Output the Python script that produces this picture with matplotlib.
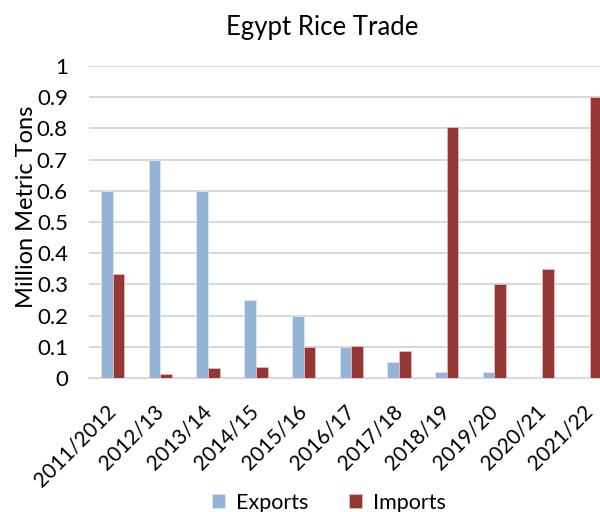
import matplotlib
matplotlib.use("Agg")
import matplotlib.pyplot as plt
import numpy as np

plt.rcParams['font.family'] = ['Lato', 'DejaVu Sans']

categories = ["2011/2012", "2012/13", "2013/14", "2014/15", "2015/16", "2016/17",
              "2017/18", "2018/19", "2019/20", "2020/21", "2021/22"]
exports = [0.6, 0.7, 0.6, 0.25, 0.2, 0.1, 0.05, 0.02, 0.02, 0.002, 0.003]
imports = [0.335, 0.013, 0.033, 0.034, 0.1, 0.102, 0.086, 0.806, 0.302, 0.349, 0.9]
yticks = [0, 0.1, 0.2, 0.3, 0.4, 0.5, 0.6, 0.7, 0.8, 0.9, 1]
ytick_labels = ["0", "0.1", "0.2", "0.3", "0.4", "0.5", "0.6", "0.7", "0.8", "0.9", "1"]

fig = plt.figure(figsize=(6, 5.12), dpi=100)
ax = fig.add_axes([0.148, 0.2617, 0.875, 0.6093])

x = np.arange(len(categories))
w = 0.245
ax.bar(x - w/2, exports, w, color="#95B3D7", edgecolor="#DCE6F2", linewidth=0.6, label="Exports", zorder=3)
ax.bar(x + w/2, imports, w, color="#953735", edgecolor="#E6B9B8", linewidth=0.6, label="Imports", zorder=3)

ax.set_xlim(-0.5, 10.5)
ax.set_ylim(0, 1)
ax.set_yticks(yticks)
ax.set_yticklabels(ytick_labels, fontsize=16)
ax.set_xticks(x)
ax.set_xticklabels(categories, fontsize=15, rotation=45, ha='right', va='center',
                   rotation_mode='anchor')
ax.tick_params(axis='both', length=0)
ax.tick_params(axis='y', pad=15)
ax.tick_params(axis='x', pad=22)

ax.grid(axis='y', color="#D9D9D9", linewidth=1.5, zorder=0)
for s in ['top', 'right', 'left']:
    ax.spines[s].set_visible(False)
ax.spines['bottom'].set_color("#D9D9D9")
ax.spines['bottom'].set_linewidth(1.5)

ax.set_ylabel("Million Metric Tons", fontsize=17)
ax.yaxis.set_label_coords(-0.098, 0.548)
fig.text(0.537, 0.947, "Egypt Rice Trade", ha='center', va='center', fontsize=18.5)

leg = fig.legend(loc='center', bbox_to_anchor=(0.548, 0.018), ncol=2, frameon=False,
                 fontsize=15.5, handlelength=0.6, handleheight=0.6, columnspacing=1.9, handletextpad=0.5)

fig.savefig("out.png", dpi=100)
